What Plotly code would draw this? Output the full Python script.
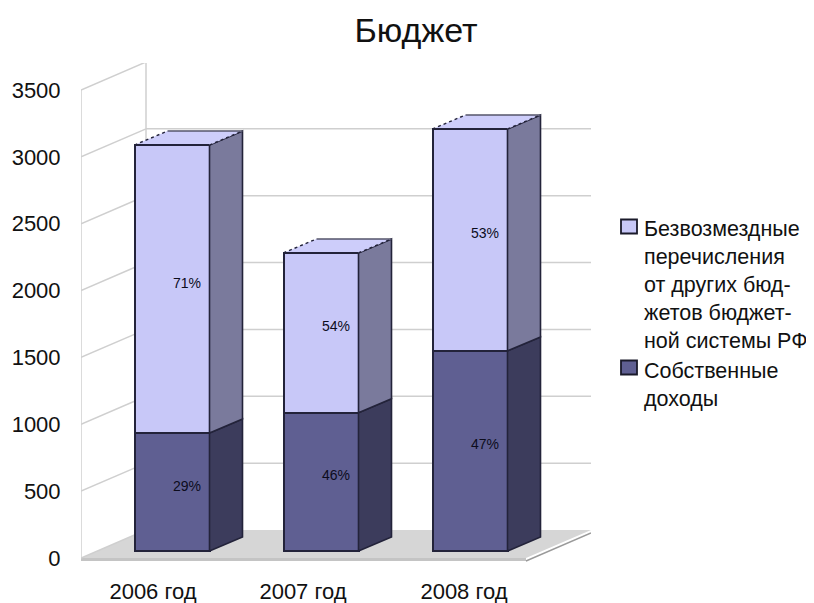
import plotly.graph_objects as go

# ---- data ----
years = ["2006 год", "2007 год", "2008 год"]
own_income = [882, 1034, 1496]
transfers = [2154, 1195, 1660]
own_share = ["29%", "46%", "47%"]
transfer_share = ["71%", "54%", "53%"]
y_ticks = [0, 500, 1000, 1500, 2000, 2500, 3000, 3500]
name_transfers = "Безвозмездные<br>перечисления<br>от других бюд-<br>жетов бюджет-<br>ной системы РФ"
name_own = "Собственные<br>доходы"

# ---- geometry / style (page pixels; the page body adds an 8px offset) ----
W, H, BODY = 814, 603, 8
PLOT_L, PLOT_R, PLOT_T, PLOT_B = 81, 591, 63, 562
CAT_PX, CAT0_PX = 149.0, 172.0
Y_PX = 66.86 / 500
Y0_PX = 558.0
BAR_BASE_PX = 551.0
BAR_W = 75 / CAT_PX
BAR_DX, BAR_DY = 33 / CAT_PX, 14 / Y_PX
WALL_DX, WALL_DY = 65 / CAT_PX, 28 / Y_PX
FLOOR_W = 445 / CAT_PX
LABEL_DX, LABEL_DY = 15 / CAT_PX, 5 / Y_PX
FONT = "Liberation Sans"
GRID = "#cfcfcf"
FLOOR = "#d6d6d6"
EDGE = "#23233a"
FRONT_L, SIDE_L, TOP_L = "#c8c8f8", "#7a7a9c", "#cdcdfa"
FRONT_D, SIDE_D = "#5f5f92", "#3c3c5c"

x_range = [(PLOT_L - CAT0_PX) / CAT_PX, (PLOT_R - CAT0_PX) / CAT_PX]
y_range = [(Y0_PX - PLOT_B) / Y_PX, (Y0_PX - PLOT_T) / Y_PX]
shift = (Y0_PX - BAR_BASE_PX) / Y_PX
y2_range = [y_range[0] - shift, y_range[1] - shift]
x_left = x_range[0]

fig = go.Figure()


def poly(xs, ys, fill, axis="y", line=None, width=0):
    fig.add_trace(go.Scatter(x=xs, y=ys, yaxis=axis, mode="lines", fill="toself", fillcolor=fill,
                             line=dict(color=line or fill, width=width), hoverinfo="skip",
                             showlegend=False))


def seg(xs, ys, color, width=1.5, dash="solid", axis="y"):
    fig.add_trace(go.Scatter(x=xs, y=ys, yaxis=axis, mode="lines",
                             line=dict(color=color, width=width, dash=dash), hoverinfo="skip",
                             showlegend=False))


# floor
th = 3 / Y_PX
poly([x_left, x_left + WALL_DX, x_left + WALL_DX + FLOOR_W, x_left + FLOOR_W, x_left],
     [0, WALL_DY, WALL_DY, 0, 0], FLOOR)
poly([x_left, x_left + FLOOR_W, x_left + FLOOR_W, x_left], [0, 0, -th, -th], "#c4c4c4")
seg([x_left + FLOOR_W, x_left + FLOOR_W + WALL_DX], [-th, WALL_DY - th], "#9a9a9a", 1.5)

# walls
top = y_ticks[-1]
seg([x_left, x_left], [0, top], GRID)
seg([x_left + WALL_DX, x_left + WALL_DX], [WALL_DY, top + WALL_DY], GRID)
for t in y_ticks:
    seg([x_left, x_left + WALL_DX], [t, t + WALL_DY], GRID)
    if t > 0:
        seg([x_left + WALL_DX, x_range[1]], [t + WALL_DY, t + WALL_DY], GRID)

# front faces, from the real stacked bars
fig.add_trace(go.Bar(x=[0, 1, 2], y=own_income, yaxis="y2", width=BAR_W, name="Собственные доходы",
                     marker=dict(color=FRONT_D, line=dict(color=EDGE, width=2))))
fig.add_trace(go.Bar(x=[0, 1, 2], y=transfers, yaxis="y2", width=BAR_W, name="Безвозмездные перечисления",
                     marker=dict(color=FRONT_L, line=dict(color=EDGE, width=2))))

# side and top faces derived from the same values
for i, (a, b) in enumerate(zip(own_income, transfers)):
    xr = i + BAR_W / 2
    xl = i - BAR_W / 2
    total = a + b
    poly([xr, xr + BAR_DX, xr + BAR_DX, xr, xr], [0, BAR_DY, a + BAR_DY, a, 0], SIDE_D, "y2", EDGE, 1.6)
    poly([xr, xr + BAR_DX, xr + BAR_DX, xr, xr], [a, a + BAR_DY, total + BAR_DY, total, a], SIDE_L, "y2", EDGE, 1.6)
    poly([xl, xr, xr + BAR_DX, xl + BAR_DX, xl], [total, total, total + BAR_DY, total + BAR_DY, total], TOP_L, "y2")
    seg([xl + BAR_DX, xr + BAR_DX], [total + BAR_DY] * 2, "#55556a", 1.5, axis="y2")
    seg([xl, xl + BAR_DX], [total, total + BAR_DY], EDGE, 1.4, "dot", "y2")
    seg([xr, xr + BAR_DX], [total, total + BAR_DY], EDGE, 1.4, "dot", "y2")
    seg([xl, xr], [total, total], EDGE, 2, axis="y2")

# percentage labels at the centre of each block
lx = [i + LABEL_DX for i in range(3)]
fig.add_trace(go.Scatter(x=lx, y=[a / 2 + LABEL_DY for a in own_income], yaxis="y2", mode="text",
                         text=own_share, textposition="middle center",
                         textfont=dict(family=FONT, size=14, color="#0c0c1c"), hoverinfo="skip",
                         showlegend=False))
fig.add_trace(go.Scatter(x=lx, y=[a + b / 2 + LABEL_DY for a, b in zip(own_income, transfers)], yaxis="y2",
                         mode="text", text=transfer_share, textposition="middle center",
                         textfont=dict(family=FONT, size=14, color="#0c0c1c"), hoverinfo="skip",
                         showlegend=False))


def px_x(p):
    return (p - PLOT_L) / (PLOT_R - PLOT_L)


def px_y(p):
    return (PLOT_B - p) / (PLOT_B - PLOT_T)


# legend: swatch beside the first line of each entry, as in the reference
annotations, shapes = [], []
for row, swatch, fill, text in [(229, 226.5, FRONT_L, name_transfers), (371, 367.5, FRONT_D, name_own)]:
    shapes.append(dict(type="rect", xref="paper", yref="paper", x0=px_x(621), x1=px_x(637),
                       y0=px_y(swatch + 7), y1=px_y(swatch - 7), fillcolor=fill,
                       line=dict(color="#1a1a2a", width=1.8)))
    annotations.append(dict(text=text, xref="paper", yref="paper", x=px_x(643), y=px_y(row - 13),
                            xanchor="left", yanchor="top", align="left", showarrow=False,
                            borderpad=0, font=dict(family=FONT, size=21.5, color="#111111")))

fig.update_layout(
    width=W - BODY, height=H - BODY, autosize=False, showlegend=False, barmode="stack",
    paper_bgcolor="white", plot_bgcolor="white",
    margin=dict(l=PLOT_L - BODY, r=W - PLOT_R, t=PLOT_T - BODY, b=H - PLOT_B, pad=0, autoexpand=False),
    font=dict(family=FONT, size=22, color="#111111"),
    title=dict(text="Бюджет", x=(416 - BODY) / (W - BODY), y=1 - (30 - BODY) / (H - BODY),
               xanchor="center", yanchor="middle", font=dict(family=FONT, size=34, color="#111111")),
    xaxis=dict(range=x_range, tickmode="array",
               tickvals=[(p - CAT0_PX) / CAT_PX for p in (153, 303, 464)], ticktext=years,
               showgrid=False, zeroline=False, showline=False, ticks="outside", ticklen=10,
               tickcolor="rgba(0,0,0,0)", fixedrange=True),
    yaxis=dict(range=y_range, tickmode="array", tickvals=y_ticks, showgrid=False, zeroline=False,
               showline=False, ticks="outside", ticklen=15, tickcolor="rgba(0,0,0,0)", fixedrange=True),
    yaxis2=dict(range=y2_range, overlaying="y", visible=False, fixedrange=True),
    annotations=annotations, shapes=shapes,
)
fig.write_html("out.html", config=dict(displayModeBar=False),
               post_script="document.documentElement.style.overflow='hidden';")
